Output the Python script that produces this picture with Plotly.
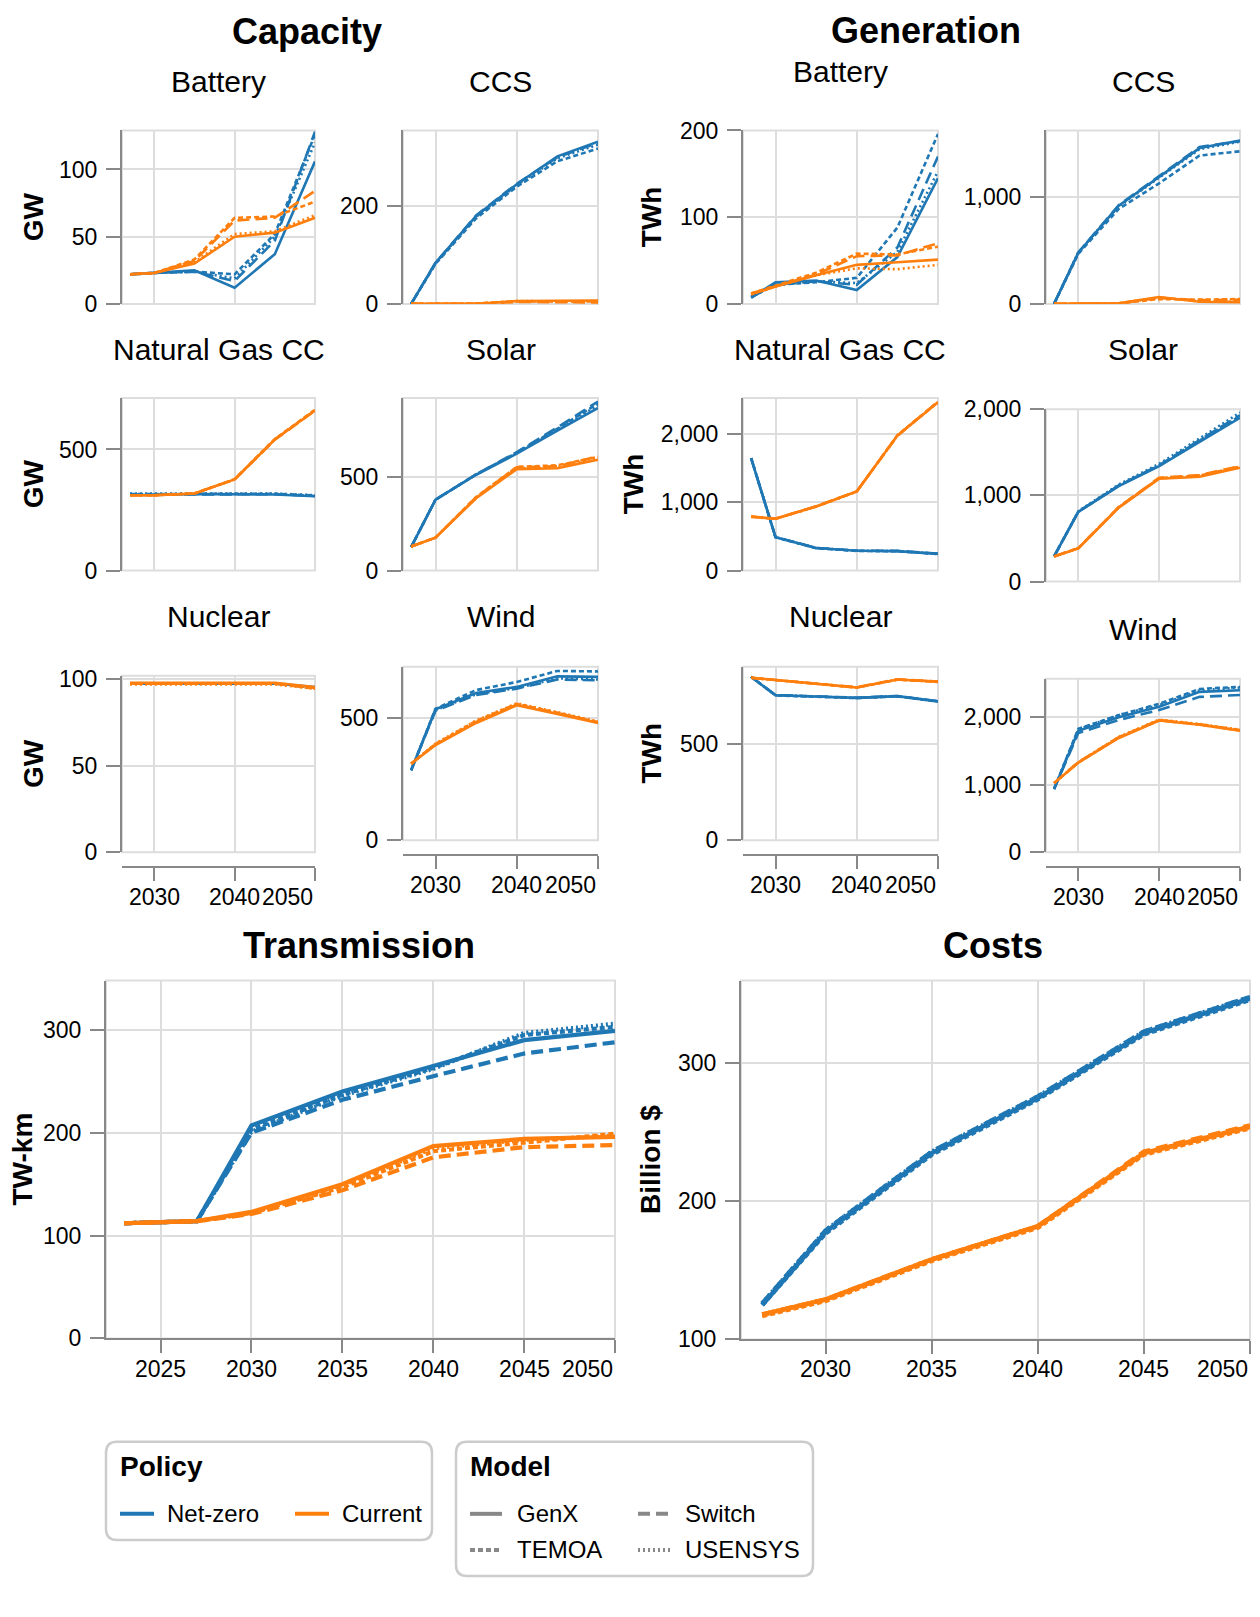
import plotly.graph_objects as go

# page is 1260x1617; the browser body adds an 8px margin, so the figure is 16px smaller
PAGE_W, PAGE_H = 1260, 1617
OFF = 8
W, H = PAGE_W - 2 * OFF, PAGE_H - 2 * OFF
FONT = "Liberation Sans, Arial, Helvetica, sans-serif"

# ---------------- data ----------------
YEARS = [2027, 2030, 2035, 2040, 2045, 2050]
TX_YEARS = [2023, 2027, 2030, 2035, 2040, 2045, 2050]
MODELS = ["GenX", "Switch", "TEMOA", "USENSYS"]
POLICIES = ["Net-zero", "Current"]

# Capacity (GW)
cap_battery_nz = {"GenX": [22, 23, 25, 12, 37, 106], "Switch": [22, 23, 24, 17, 47, 128],
                  "TEMOA": [22, 23, 24, 22, 52, 126], "USENSYS": [22, 23, 24, 19, 50, 120]}
cap_battery_cur = {"GenX": [22, 23, 30, 50, 53, 64], "Switch": [22, 23, 32, 62, 64, 84],
                   "TEMOA": [22, 23, 33, 64, 65, 76], "USENSYS": [22, 23, 31, 52, 54, 66]}
cap_ccs_nz = {"GenX": [0, 84, 180, 245, 302, 332], "Switch": [0, 84, 181, 246, 300, 330],
              "TEMOA": [0, 82, 175, 240, 292, 318], "USENSYS": [0, 83, 178, 243, 298, 326]}
cap_ccs_cur = {"GenX": [0, 0, 0, 6, 6, 7], "Switch": [0, 0, 0, 4, 3, 3],
               "TEMOA": [0, 0, 1, 5, 5, 5], "USENSYS": [0, 0, 0, 6, 5, 6]}
cap_ngcc_nz = {"GenX": [312, 312, 316, 316, 314, 307], "Switch": [314, 314, 317, 316, 315, 308],
               "TEMOA": [316, 316, 319, 318, 317, 310], "USENSYS": [318, 318, 320, 320, 318, 311]}
cap_ngcc_cur = {"GenX": [311, 311, 318, 376, 541, 661], "Switch": [311, 311, 318, 376, 540, 660],
                "TEMOA": [311, 311, 318, 377, 543, 664], "USENSYS": [311, 311, 318, 376, 541, 662]}
cap_solar_nz = {"GenX": [125, 377, 510, 622, 745, 866], "Switch": [125, 377, 512, 630, 762, 900],
                "TEMOA": [125, 377, 512, 628, 755, 890], "USENSYS": [125, 377, 511, 625, 750, 880]}
cap_solar_cur = {"GenX": [128, 175, 385, 540, 545, 590], "Switch": [128, 175, 390, 550, 555, 608],
                 "TEMOA": [128, 175, 392, 552, 560, 605], "USENSYS": [128, 175, 388, 545, 550, 600]}
cap_nuclear_nz = {"GenX": [97.5, 97.5, 97.5, 97.5, 97.5, 95.5], "Switch": [97.5, 97.5, 97.5, 97.5, 97.5, 95],
                  "TEMOA": [97.5, 97.5, 97.5, 97.5, 97.5, 95], "USENSYS": [97.5, 97.5, 97.5, 97.5, 97.5, 95]}
cap_nuclear_cur = {"GenX": [98, 98, 98, 98, 98, 95.5], "Switch": [97.5, 97.5, 97.5, 97.5, 97.5, 95],
                   "TEMOA": [97.5, 97.5, 97.5, 97.5, 97.5, 94.5], "USENSYS": [97, 97, 97, 97, 97, 94.5]}
cap_wind_nz = {"GenX": [285, 534, 600, 625, 668, 666], "Switch": [285, 528, 592, 618, 655, 652],
               "TEMOA": [285, 536, 612, 645, 690, 688], "USENSYS": [285, 530, 595, 620, 660, 655]}
cap_wind_cur = {"GenX": [312, 388, 478, 550, 515, 478], "Switch": [312, 390, 482, 553, 518, 482],
                "TEMOA": [312, 392, 486, 556, 520, 480], "USENSYS": [312, 394, 488, 558, 522, 484]}

# Generation (TWh)
gen_battery_nz = {"GenX": [7, 25, 27, 16, 54, 145], "Switch": [8, 22, 26, 22, 65, 170],
                  "TEMOA": [8, 22, 25, 30, 88, 196], "USENSYS": [8, 22, 26, 24, 60, 153]}
gen_battery_cur = {"GenX": [11, 20, 33, 45, 48, 51], "Switch": [12, 20, 34, 55, 56, 70],
                   "TEMOA": [12, 21, 36, 58, 57, 66], "USENSYS": [11, 20, 33, 41, 40, 45]}
gen_ccs_nz = {"GenX": [0, 480, 920, 1190, 1460, 1530], "Switch": [0, 482, 925, 1195, 1470, 1525],
              "TEMOA": [0, 470, 890, 1130, 1390, 1430], "USENSYS": [0, 485, 915, 1185, 1450, 1520]}
gen_ccs_cur = {"GenX": [0, 0, 5, 65, 20, 15], "Switch": [0, 0, 5, 55, 35, 40],
               "TEMOA": [0, 0, 5, 45, 40, 45], "USENSYS": [0, 0, 5, 60, 25, 20]}
gen_ngcc_nz = {"GenX": [1650, 490, 330, 290, 285, 245], "Switch": [1650, 492, 332, 292, 288, 248],
               "TEMOA": [1650, 488, 328, 288, 283, 242], "USENSYS": [1650, 490, 331, 291, 286, 246]}
gen_ngcc_cur = {"GenX": [790, 760, 940, 1160, 1980, 2470], "Switch": [792, 762, 942, 1162, 1975, 2480],
                "TEMOA": [790, 760, 940, 1160, 1985, 2475], "USENSYS": [788, 758, 938, 1158, 1980, 2470]}
gen_solar_nz = {"GenX": [292, 808, 1108, 1338, 1620, 1900], "Switch": [292, 812, 1115, 1350, 1640, 1930],
                "TEMOA": [292, 810, 1112, 1345, 1635, 1920], "USENSYS": [292, 815, 1125, 1365, 1660, 1960]}
gen_solar_cur = {"GenX": [292, 385, 858, 1192, 1215, 1320], "Switch": [292, 388, 865, 1205, 1235, 1340],
                 "TEMOA": [292, 386, 862, 1200, 1228, 1335], "USENSYS": [292, 387, 860, 1198, 1222, 1330]}
gen_nuclear_nz = {"GenX": [845, 750, 743, 736, 745, 718], "Switch": [845, 751, 744, 737, 746, 719],
                  "TEMOA": [845, 749, 742, 735, 744, 717], "USENSYS": [845, 750, 743, 736, 745, 718]}
gen_nuclear_cur = {"GenX": [840, 828, 810, 790, 831, 820], "Switch": [840, 829, 811, 791, 832, 821],
                   "TEMOA": [840, 827, 809, 789, 830, 819], "USENSYS": [840, 828, 810, 790, 831, 820]}
gen_wind_nz = {"GenX": [937, 1800, 2000, 2156, 2376, 2400], "Switch": [937, 1766, 1960, 2107, 2302, 2330],
               "TEMOA": [937, 1830, 2030, 2200, 2420, 2450], "USENSYS": [937, 1820, 2034, 2180, 2400, 2440]}
gen_wind_cur = {"GenX": [1024, 1327, 1693, 1951, 1888, 1800], "Switch": [1024, 1335, 1705, 1960, 1895, 1810],
                "TEMOA": [1024, 1330, 1700, 1955, 1892, 1805], "USENSYS": [1024, 1332, 1710, 1965, 1900, 1815]}

# Transmission (TW-km)
tx_nz = {"GenX": [112, 114, 207, 240, 265, 290, 299], "Switch": [112, 114, 200, 232, 255, 277, 288],
         "TEMOA": [112, 114, 203, 237, 263, 295, 303], "USENSYS": [112, 114, 201, 236, 262, 297, 306]}
tx_cur = {"GenX": [112, 114, 123, 150, 187, 194, 196], "Switch": [112, 114, 121, 144, 176, 186, 188],
          "TEMOA": [112, 114, 122, 147, 182, 190, 199], "USENSYS": [112, 114, 122, 149, 185, 193, 197]}

# Costs (Billion $)
cost_nz = {"GenX": [125, 178, 235, 275, 322, 347], "Switch": [126, 179, 236, 276, 323, 348],
           "TEMOA": [125, 177, 234, 274, 321, 346], "USENSYS": [126, 179, 236, 276, 323, 348]}
cost_cur = {"GenX": [118, 129, 158, 182, 235, 254], "Switch": [118, 129, 158, 182, 236, 255],
            "TEMOA": [117, 128, 157, 181, 234, 253], "USENSYS": [118, 129, 158, 182, 235, 254]}

# ---------------- styling ----------------
POLICY_COLOR = {"Net-zero": "#1f77b4", "Current": "#ff7f0e"}
MODEL_DASH = {"GenX": "solid", "Switch": "12px,6px", "TEMOA": "5px,3px", "USENSYS": "2px,3px"}

# title, x, nz, cur, rect(px x0,x1,ytop,ybot), yrange, yticks, kind, ytitle(text, x), title_y, xaxis(line_y,label_y)
panels = [
    ("Battery", YEARS, cap_battery_nz, cap_battery_cur, (122, 315, 130, 303), [0, 129], [0, 50, 100], "small", ("GW", 33), 81, None),
    ("CCS", YEARS, cap_ccs_nz, cap_ccs_cur, (403, 598, 130, 303), [0, 355], [0, 200], "small", None, 81, None),
    ("Battery", YEARS, gen_battery_nz, gen_battery_cur, (743, 938, 130, 303), [0, 200], [0, 100, 200], "small", ("TWh", 651), 71, None),
    ("CCS", YEARS, gen_ccs_nz, gen_ccs_cur, (1046, 1240, 130, 303), [0, 1625], [0, 1000], "small", None, 81, None),
    ("Natural Gas CC", YEARS, cap_ngcc_nz, cap_ngcc_cur, (122, 315, 397, 569), [0, 712], [0, 500], "small", ("GW", 33), 349, None),
    ("Solar", YEARS, cap_solar_nz, cap_solar_cur, (403, 598, 397, 569), [0, 918], [0, 500], "small", None, 349, None),
    ("Natural Gas CC", YEARS, gen_ngcc_nz, gen_ngcc_cur, (743, 938, 397, 569), [0, 2530], [0, 1000, 2000], "small", ("TWh", 633), 349, None),
    ("Solar", YEARS, gen_solar_nz, gen_solar_cur, (1046, 1240, 408, 580), [0, 2000], [0, 1000, 2000], "small", None, 349, None),
    ("Nuclear", YEARS, cap_nuclear_nz, cap_nuclear_cur, (122, 315, 674, 850), [0, 102], [0, 50, 100], "small", ("GW", 33), 615, (865, 895)),
    ("Wind", YEARS, cap_wind_nz, cap_wind_cur, (403, 598, 665, 838), [0, 707], [0, 500], "small", None, 615, (853, 883)),
    ("Nuclear", YEARS, gen_nuclear_nz, gen_nuclear_cur, (743, 938, 665, 838), [0, 897], [0, 500], "small", ("TWh", 651), 615, (853, 883)),
    ("Wind", YEARS, gen_wind_nz, gen_wind_cur, (1046, 1240, 677, 850), [0, 2570], [0, 1000, 2000], "small", None, 628, (865, 895)),
    (None, TX_YEARS, tx_nz, tx_cur, (106, 615, 978, 1335), [0, 348], [0, 100, 200, 300], "tx", ("TW-km", 22), None, (1335, 1366)),
    (None, YEARS, cost_nz, cost_cur, (741, 1250, 978, 1336), [100, 360], [100, 200, 300], "cost", ("Billion $", 651), None, (1336, 1366)),
]

AXIS_SETUP = {
    "small": ([2026, 2050], [2030, 2040, 2050], 2.6),
    "tx": ([2022, 2050], [2025, 2030, 2035, 2040, 2045, 2050], 4.2),
    "cost": ([2026, 2050], [2030, 2035, 2040, 2045, 2050], 4.6),
}


def px(x):
    return (x - OFF) / W


def vy(y):
    # vertical placement calibration
    return 1.019 * y - 13.2


def py(y):
    return 1 - (vy(y) - OFF) / H


fig = go.Figure()
layout = dict(width=W, height=H, autosize=False, margin=dict(l=0, r=0, t=0, b=0),
              paper_bgcolor="white", plot_bgcolor="white", showlegend=False,
              font=dict(family=FONT, color="black"))
annotations = []
shapes = []

for i, (title, xs, nz, cur, rect, yrange, yticks, kind, ytitle, title_y, xaxis_info) in enumerate(panels, 1):
    suffix = "" if i == 1 else str(i)
    xref, yref = "x" + suffix, "y" + suffix
    x0, x1, yt, yb = rect
    xrange, xticks, lw = AXIS_SETUP[kind]

    for pol, data in (("Net-zero", nz), ("Current", cur)):
        for m in MODELS:
            fig.add_trace(go.Scatter(x=xs, y=data[m], mode="lines", xaxis=xref, yaxis=yref,
                                     line=dict(color=POLICY_COLOR[pol], width=lw, dash=MODEL_DASH[m]),
                                     hoverinfo="skip", showlegend=False))

    xa = dict(domain=[px(x0), px(x1)], range=xrange, tickvals=xticks, showgrid=True,
              gridcolor="#dddddd", gridwidth=1.5, zeroline=False, showticklabels=False,
              anchor=yref, fixedrange=True)
    if xaxis_info is not None:
        axis_y, label_y = xaxis_info
        xa.update(showline=True, linecolor="#888888", linewidth=2, ticks="outside",
                  ticklen=13, tickwidth=2, tickcolor="#888888")
        if axis_y != yb:
            xa.update(anchor="free", position=py(axis_y))
        for k, t in enumerate(xticks):
            last = (k == len(xticks) - 1)
            annotations.append(dict(x=t, y=py(label_y), xref=xref, yref="paper", text=str(t),
                                    showarrow=False, xanchor="right" if last else "center",
                                    yanchor="middle", font=dict(size=23, family=FONT, color="black")))
    else:
        xa.update(showline=False, ticks="")
    layout["xaxis" + suffix] = xa

    layout["yaxis" + suffix] = dict(domain=[py(yb), py(yt)], range=yrange, tickvals=yticks,
                                    tickformat=",", showgrid=True, gridcolor="#dddddd", gridwidth=1.5,
                                    zeroline=False, showline=True, linecolor="#888888", linewidth=2,
                                    ticks="outside", ticklen=14, tickwidth=2, tickcolor="#888888",
                                    ticklabelstandoff=4,
                                    tickfont=dict(size=23, family=FONT, color="black"),
                                    anchor=xref, fixedrange=True)

    # light view border
    shapes.append(dict(type="rect", xref=xref + " domain", yref=yref + " domain", x0=0, x1=1, y0=0, y1=1,
                       line=dict(color="#dddddd", width=2), layer="below"))

    if title:
        annotations.append(dict(x=px((x0 + x1) / 2), y=py(title_y), xref="paper", yref="paper", text=title,
                                showarrow=False, xanchor="center", yanchor="middle",
                                font=dict(size=30, family=FONT, color="black")))
    if ytitle:
        text, tx = ytitle
        annotations.append(dict(x=px(tx), y=py((yt + yb) / 2), xref="paper", yref="paper", text="<b>%s</b>" % text,
                                showarrow=False, textangle=-90, xanchor="center", yanchor="middle",
                                font=dict(size=28, family=FONT, color="black")))

# group titles
for text, cx, cy in (("Capacity", 307, 31), ("Generation", 926, 30), ("Transmission", 359, 943), ("Costs", 993, 943)):
    annotations.append(dict(x=px(cx), y=py(cy), xref="paper", yref="paper", text="<b>%s</b>" % text,
                            showarrow=False, xanchor="center", yanchor="middle",
                            font=dict(size=36, family=FONT, color="black")))


# ---------------- legends ----------------
def rrect_path(x0, y0, x1, y1, r):
    def P(x, y):
        return "%.6f,%.6f" % (px(x), py(y))
    return ("M " + P(x0 + r, y0) + " L " + P(x1 - r, y0) + " Q " + P(x1, y0) + " " + P(x1, y0 + r) +
            " L " + P(x1, y1 - r) + " Q " + P(x1, y1) + " " + P(x1 - r, y1) +
            " L " + P(x0 + r, y1) + " Q " + P(x0, y1) + " " + P(x0, y1 - r) +
            " L " + P(x0, y0 + r) + " Q " + P(x0, y0) + " " + P(x0 + r, y0) + " Z")


for box in ((106, 1438, 432, 1536), (456, 1438, 813, 1572)):
    shapes.append(dict(type="path", xref="paper", yref="paper", path=rrect_path(*box, 11),
                       line=dict(color="#cccccc", width=2.5), fillcolor="rgba(0,0,0,0)"))

legend_titles = (("Policy", 118), ("Model", 468))
for text, lx in legend_titles:
    annotations.append(dict(x=px(lx), y=py(1463), xref="paper", yref="paper", text="<b>%s</b>" % text,
                            showarrow=False, xanchor="left", yanchor="middle",
                            font=dict(size=28, family=FONT, color="black")))

policy_items = (("Net-zero", 120, 1510), ("Current", 295, 1510))
for pol, lx, ly in policy_items:
    shapes.append(dict(type="line", xref="paper", yref="paper", x0=px(lx), x1=px(lx + 34), y0=py(ly), y1=py(ly),
                       line=dict(color=POLICY_COLOR[pol], width=4)))
    annotations.append(dict(x=px(lx + 45), y=py(ly), xref="paper", yref="paper", text=pol, showarrow=False,
                            xanchor="left", yanchor="middle", font=dict(size=24, family=FONT, color="black")))

model_items = (("GenX", 470, 1510), ("Switch", 638, 1510), ("TEMOA", 470, 1546), ("USENSYS", 638, 1546))
for m, lx, ly in model_items:
    shapes.append(dict(type="line", xref="paper", yref="paper", x0=px(lx), x1=px(lx + 32), y0=py(ly), y1=py(ly),
                       line=dict(color="#888888", width=4, dash=MODEL_DASH[m])))
    annotations.append(dict(x=px(lx + 45), y=py(ly), xref="paper", yref="paper", text=m, showarrow=False,
                            xanchor="left", yanchor="middle", font=dict(size=24, family=FONT, color="black")))

layout["annotations"] = annotations
layout["shapes"] = shapes
fig.update_layout(**layout)
fig.write_html("out.html", config={"displayModeBar": False})
